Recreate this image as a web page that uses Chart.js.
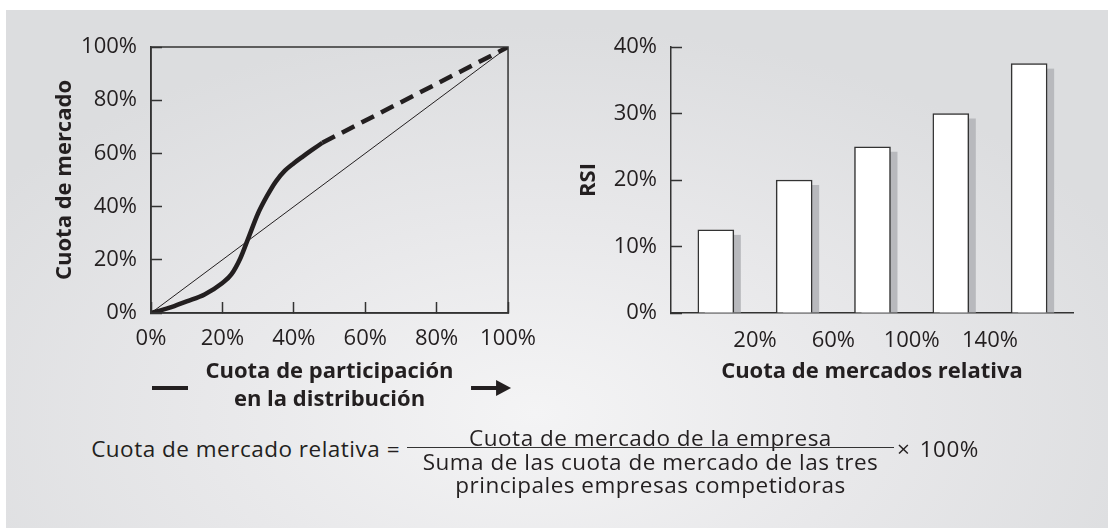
<!DOCTYPE html>
<html>
<head>
<meta charset="utf-8">
<script src="https://cdn.jsdelivr.net/npm/chart.js@4/dist/chart.umd.min.js"></script>
<style>
  html, body { margin: 0; padding: 0; background: #fff; }
  body { width: 1108px; height: 528px; position: relative; overflow: hidden; font-family: "Open Sans", sans-serif; color: #231f20; }
  #panel {
    position: absolute; left: 6px; top: 10px; right: 0; bottom: 0;
    background: radial-gradient(ellipse 60% 75% at 48% 78%, #f4f4f5 0%, #e8e8ea 50%, #dcdddf 100%);
  }
  #leftBox { position: absolute; left: 0; top: 0; width: 560px; height: 430px; }
  #rightBox { position: absolute; left: 560px; top: 0; width: 548px; height: 430px; }
  .f { position: absolute; font-size: 22.5px; line-height: 23px; letter-spacing: 0.5px; white-space: nowrap; }
  #lhs { right: 708px; top: 437px; }
  #num { left: 407px; width: 487px; top: 426px; text-align: center; }
  #bar { position: absolute; left: 407px; width: 487px; top: 447px; height: 1px; background: #333; }
  #den { left: 407px; width: 487px; top: 450px; text-align: center; }
  #mul { left: 897px; top: 437px; word-spacing: 3px; }
</style>
</head>
<body>
<div id="panel"></div>
<div id="leftBox"><canvas id="curveChart"></canvas></div>
<div id="rightBox"><canvas id="rsiChart"></canvas></div>
<div class="f" id="lhs">Cuota de mercado relativa =</div>
<div class="f" id="num">Cuota de mercado de la empresa</div>
<div id="bar"></div>
<div class="f" id="den">Suma de las cuota de mercado de las tres<br>principales empresas competidoras</div>
<div class="f" id="mul">× 100%</div>

<script>
// Curva S: cuota de distribución vs cuota de mercado
const distShare = [0, 5, 10, 15, 20, 22.5, 25, 27.5, 30, 32.5, 35, 37.5, 40, 42.5, 45, 48];
const marketShare = [0, 1.9, 4.4, 7, 11.3, 14.5, 20.5, 29, 37.5, 44, 49.5, 53.5, 56.3, 58.8, 61.2, 64];
const trendX = [48, 100];
const trendY = [64, 100];
const diagX = [0, 100];
const diagY = [0, 100];
const pctTicks = [0, 20, 40, 60, 80, 100];

// RSI por cuota de mercado relativa
const relBins = [0, 40, 80, 120, 160];
const rsiValues = [12.5, 20, 25, 30, 37.5];
const relTicks = [20, 60, 100, 140];
const rsiTicks = [0, 10, 20, 30, 40];

const INK = "#231f20";
const FONT = "'Open Sans', sans-serif";
const pts = (xs, ys) => xs.map((x, i) => ({ x, y: ys[i] }));
const pct = (v) => v + "%";

// marco completo alrededor del área del gráfico
const framePlugin = {
  id: "frame",
  afterDatasetsDraw(chart) {
    const { ctx, chartArea: a } = chart;
    ctx.save();
    ctx.strokeStyle = "#333";
    ctx.lineWidth = 1.5;
    ctx.strokeRect(a.left, a.top, a.right - a.left, a.bottom - a.top);
    ctx.restore();
  },
};

// raya y flecha junto al título del eje x
const arrowPlugin = {
  id: "arrow",
  afterDraw(chart) {
    const { ctx, chartArea: a } = chart;
    const y = a.bottom + 75;
    ctx.save();
    ctx.fillStyle = INK;
    ctx.fillRect(a.left + 1, y - 2, 36, 4);
    ctx.fillRect(a.right - 37, y - 2, 28, 4);
    ctx.beginPath();
    ctx.moveTo(a.right - 12, y - 8);
    ctx.lineTo(a.right + 3, y);
    ctx.lineTo(a.right - 12, y + 8);
    ctx.closePath();
    ctx.fill();
    ctx.restore();
  },
};

// sombra gris detrás de cada barra
const shadowPlugin = {
  id: "barShadow",
  beforeDatasetsDraw(chart) {
    const { ctx } = chart;
    const meta = chart.getDatasetMeta(0);
    ctx.save();
    ctx.fillStyle = "#b8b9bd";
    meta.data.forEach((el) => {
      const { x, y, width, base } = el.getProps(["x", "y", "width", "base"], true);
      ctx.fillRect(x - width / 2 + 7, y + 5, width, base - y - 5);
    });
    ctx.restore();
  },
};

const tickFont = { family: FONT, size: 22 };
const titleFont = { family: FONT, size: 22, weight: "bold", lineHeight: 1.25 };

new Chart(document.getElementById("curveChart"), {
  type: "line",
  data: {
    datasets: [
      {
        data: pts(diagX, diagY),
        borderColor: INK,
        borderWidth: 1,
        pointRadius: 0,
      },
      {
        data: pts(distShare, marketShare),
        borderColor: INK,
        borderWidth: 4.5,
        pointRadius: 0,
        cubicInterpolationMode: "monotone",
      },
      {
        data: pts(trendX, trendY),
        borderColor: INK,
        borderWidth: 4.5,
        borderDash: [14, 8],
        pointRadius: 0,
      },
    ],
  },
  options: {
    responsive: true,
    maintainAspectRatio: false,
    animation: false,
    layout: { padding: { left: 51, top: 47, right: 48, bottom: 17 } },
    plugins: { legend: { display: false }, tooltip: { enabled: false } },
    scales: {
      x: {
        type: "linear",
        min: 0,
        max: 100,
        afterBuildTicks: (s) => { s.ticks = pctTicks.map((v) => ({ value: v })); },
        afterFit: (s) => { s.height = 100; },
        grid: { drawOnChartArea: false, tickLength: -11, color: "#333", tickWidth: 1.5 },
        border: { color: "#333", width: 1.5 },
        ticks: { font: tickFont, color: INK, padding: 24, maxRotation: 0, callback: pct },
        title: {
          display: true,
          text: ["Cuota de participación", "en la distribución"],
          font: titleFont,
          color: INK,
          padding: 0,
        },
      },
      y: {
        type: "linear",
        min: 0,
        max: 100,
        afterBuildTicks: (s) => { s.ticks = pctTicks.map((v) => ({ value: v })); },
        afterFit: (s) => { s.width = 100; },
        grid: { drawOnChartArea: false, tickLength: -11, color: "#333", tickWidth: 1.5 },
        border: { color: "#333", width: 1.5 },
        ticks: { font: tickFont, color: INK, padding: 25, callback: pct },
        title: { display: true, text: "Cuota de mercado", font: titleFont, color: INK, padding: 0 },
      },
    },
  },
  plugins: [framePlugin, arrowPlugin],
});

new Chart(document.getElementById("rsiChart"), {
  type: "bar",
  data: {
    datasets: [
      {
        data: pts(relBins, rsiValues),
        backgroundColor: "#ffffff",
        borderColor: "#333",
        borderWidth: 1.5,
        barThickness: 36,
      },
    ],
  },
  options: {
    responsive: true,
    maintainAspectRatio: false,
    animation: false,
    layout: { padding: { left: 15, top: 47, right: 35, bottom: 45 } },
    plugins: { legend: { display: false }, tooltip: { enabled: false } },
    scales: {
      x: {
        type: "linear",
        offset: false,
        min: -22.9,
        max: 182.4,
        afterBuildTicks: (s) => { s.ticks = relTicks.map((v) => ({ value: v })); },
        afterFit: (s) => { s.height = 72; },
        grid: { offset: false, drawOnChartArea: false, drawTicks: false },
        border: { color: "#333", width: 1.5 },
        ticks: { font: tickFont, color: INK, padding: 15, maxRotation: 0, callback: pct },
        title: { display: true, text: "Cuota de mercados relativa", font: titleFont, color: INK, padding: 0 },
      },
      y: {
        type: "linear",
        min: 0,
        max: 40,
        afterBuildTicks: (s) => { s.ticks = rsiTicks.map((v) => ({ value: v })); },
        afterFit: (s) => { s.width = 96; },
        grid: { drawOnChartArea: false, tickLength: -11, color: "#333", tickWidth: 1.5 },
        border: { color: "#333", width: 1.5 },
        ticks: { font: tickFont, color: INK, padding: 25, callback: pct },
        title: { display: true, text: "RSI", font: titleFont, color: INK, padding: 0 },
      },
    },
  },
  plugins: [shadowPlugin],
});
</script>
</body>
</html>
